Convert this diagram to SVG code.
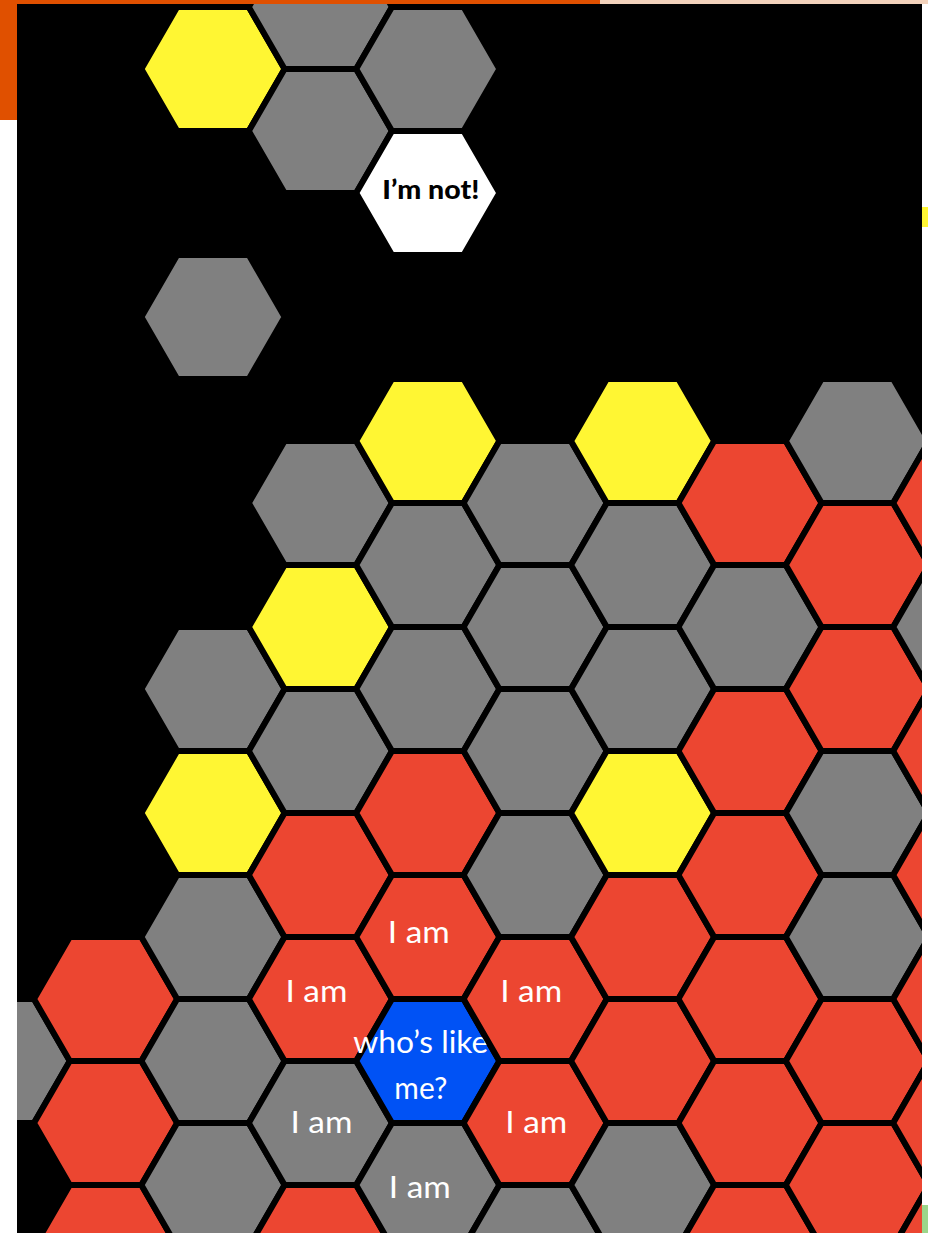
<svg xmlns="http://www.w3.org/2000/svg" xmlns:xlink="http://www.w3.org/1999/xlink" width="928" height="1233" viewBox="0 0 928 1233">
<style>
.hx{stroke:#000;stroke-width:6;stroke-linejoin:miter}
.red{fill:#EC4631}.gray{fill:#808080}.yellow{fill:#FFF633}.white{fill:#FFFFFF}.blue{fill:#0052F5}
.lbl{font-family:Lato,"Liberation Sans",sans-serif;font-size:30px;fill:#FFFFFF;text-anchor:middle}
.lblb{font-family:Lato,"Liberation Sans",sans-serif;font-size:26px;font-weight:900;fill:#000;text-anchor:middle}
</style>
<defs>
<polygon id="h" points="-71.6,0 -35.8,-62 35.8,-62 71.6,0 35.8,62 -35.8,62"/>
<clipPath id="panel"><rect x="17" y="4" width="905" height="1229"/></clipPath>
</defs>
<rect x="0" y="0" width="928" height="1233" fill="#FFFFFF"/>
<rect x="0" y="0" width="600" height="4" fill="#E05000"/>
<rect x="600" y="0" width="328" height="4" fill="#F2D2BC"/>
<rect x="0" y="0" width="17" height="120" fill="#E05000"/>
<rect x="922" y="207" width="6" height="20" fill="#FFF633"/>
<rect x="922" y="1205" width="6" height="28" fill="#9CD68A"/>
<rect x="17" y="4" width="905" height="1229" fill="#000"/>
<g id="hexes" clip-path="url(#panel)">
<g id="c0r1061" transform="translate(-1.8,1061)"><use href="#h" class="hx gray"/></g>
<g id="c1r999" transform="translate(105.6,999)"><use href="#h" class="hx red"/></g>
<g id="c1r1123" transform="translate(105.6,1123)"><use href="#h" class="hx red"/></g>
<g id="c1r1247" transform="translate(105.6,1247)"><use href="#h" class="hx red"/></g>
<g id="c2r69" transform="translate(213,69)"><use href="#h" class="hx yellow"/></g>
<g id="c2r317" transform="translate(213,317)"><use href="#h" class="hx gray"/></g>
<g id="c2r689" transform="translate(213,689)"><use href="#h" class="hx gray"/></g>
<g id="c2r813" transform="translate(213,813)"><use href="#h" class="hx yellow"/></g>
<g id="c2r937" transform="translate(213,937)"><use href="#h" class="hx gray"/></g>
<g id="c2r1061" transform="translate(213,1061)"><use href="#h" class="hx gray"/></g>
<g id="c2r1185" transform="translate(213,1185)"><use href="#h" class="hx gray"/></g>
<g id="c3r7" transform="translate(320.4,7)"><use href="#h" class="hx gray"/></g>
<g id="c3r131" transform="translate(320.4,131)"><use href="#h" class="hx gray"/></g>
<g id="c3r503" transform="translate(320.4,503)"><use href="#h" class="hx gray"/></g>
<g id="c3r627" transform="translate(320.4,627)"><use href="#h" class="hx yellow"/></g>
<g id="c3r751" transform="translate(320.4,751)"><use href="#h" class="hx gray"/></g>
<g id="c3r875" transform="translate(320.4,875)"><use href="#h" class="hx red"/></g>
<g id="c3r999" transform="translate(320.4,999)"><use href="#h" class="hx red"/><text class="lbl" x="-4" y="3" textLength="62" lengthAdjust="spacingAndGlyphs">I am</text></g>
<g id="c3r1123" transform="translate(320.4,1123)"><use href="#h" class="hx gray"/><text class="lbl" x="1" y="10" textLength="62" lengthAdjust="spacingAndGlyphs">I am</text></g>
<g id="c3r1247" transform="translate(320.4,1247)"><use href="#h" class="hx red"/></g>
<g id="c4r69" transform="translate(427.8,69)"><use href="#h" class="hx gray"/></g>
<g id="c4r193" transform="translate(427.8,193)"><use href="#h" class="hx white"/><text class="lblb" x="3" y="6" textLength="97" lengthAdjust="spacingAndGlyphs">I’m not!</text></g>
<g id="c4r441" transform="translate(427.8,441)"><use href="#h" class="hx yellow"/></g>
<g id="c4r565" transform="translate(427.8,565)"><use href="#h" class="hx gray"/></g>
<g id="c4r689" transform="translate(427.8,689)"><use href="#h" class="hx gray"/></g>
<g id="c4r813" transform="translate(427.8,813)"><use href="#h" class="hx red"/></g>
<g id="c4r937" transform="translate(427.8,937)"><use href="#h" class="hx red"/><text class="lbl" x="-9" y="6" textLength="62" lengthAdjust="spacingAndGlyphs">I am</text></g>
<g id="c4r1061" transform="translate(427.8,1061)"><use href="#h" class="hx blue"/><text class="lbl" x="-7" y="-8" textLength="135" lengthAdjust="spacingAndGlyphs">who’s like</text><text class="lbl" x="-7" y="38" textLength="53" lengthAdjust="spacingAndGlyphs">me?</text></g>
<g id="c4r1185" transform="translate(427.8,1185)"><use href="#h" class="hx gray"/><text class="lbl" x="-8" y="13" textLength="62" lengthAdjust="spacingAndGlyphs">I am</text></g>
<g id="c5r503" transform="translate(535.2,503)"><use href="#h" class="hx gray"/></g>
<g id="c5r627" transform="translate(535.2,627)"><use href="#h" class="hx gray"/></g>
<g id="c5r751" transform="translate(535.2,751)"><use href="#h" class="hx gray"/></g>
<g id="c5r875" transform="translate(535.2,875)"><use href="#h" class="hx gray"/></g>
<g id="c5r999" transform="translate(535.2,999)"><use href="#h" class="hx red"/><text class="lbl" x="-4" y="3" textLength="62" lengthAdjust="spacingAndGlyphs">I am</text></g>
<g id="c5r1123" transform="translate(535.2,1123)"><use href="#h" class="hx red"/><text class="lbl" x="1" y="10" textLength="62" lengthAdjust="spacingAndGlyphs">I am</text></g>
<g id="c5r1247" transform="translate(535.2,1247)"><use href="#h" class="hx gray"/></g>
<g id="c6r441" transform="translate(642.6,441)"><use href="#h" class="hx yellow"/></g>
<g id="c6r565" transform="translate(642.6,565)"><use href="#h" class="hx gray"/></g>
<g id="c6r689" transform="translate(642.6,689)"><use href="#h" class="hx gray"/></g>
<g id="c6r813" transform="translate(642.6,813)"><use href="#h" class="hx yellow"/></g>
<g id="c6r937" transform="translate(642.6,937)"><use href="#h" class="hx red"/></g>
<g id="c6r1061" transform="translate(642.6,1061)"><use href="#h" class="hx red"/></g>
<g id="c6r1185" transform="translate(642.6,1185)"><use href="#h" class="hx gray"/></g>
<g id="c7r503" transform="translate(750,503)"><use href="#h" class="hx red"/></g>
<g id="c7r627" transform="translate(750,627)"><use href="#h" class="hx gray"/></g>
<g id="c7r751" transform="translate(750,751)"><use href="#h" class="hx red"/></g>
<g id="c7r875" transform="translate(750,875)"><use href="#h" class="hx red"/></g>
<g id="c7r999" transform="translate(750,999)"><use href="#h" class="hx red"/></g>
<g id="c7r1123" transform="translate(750,1123)"><use href="#h" class="hx red"/></g>
<g id="c7r1247" transform="translate(750,1247)"><use href="#h" class="hx red"/></g>
<g id="c8r441" transform="translate(857.4,441)"><use href="#h" class="hx gray"/></g>
<g id="c8r565" transform="translate(857.4,565)"><use href="#h" class="hx red"/></g>
<g id="c8r689" transform="translate(857.4,689)"><use href="#h" class="hx red"/></g>
<g id="c8r813" transform="translate(857.4,813)"><use href="#h" class="hx gray"/></g>
<g id="c8r937" transform="translate(857.4,937)"><use href="#h" class="hx gray"/></g>
<g id="c8r1061" transform="translate(857.4,1061)"><use href="#h" class="hx red"/></g>
<g id="c8r1185" transform="translate(857.4,1185)"><use href="#h" class="hx red"/></g>
<g id="c9r503" transform="translate(964.8,503)"><use href="#h" class="hx red"/></g>
<g id="c9r627" transform="translate(964.8,627)"><use href="#h" class="hx gray"/></g>
<g id="c9r751" transform="translate(964.8,751)"><use href="#h" class="hx red"/></g>
<g id="c9r875" transform="translate(964.8,875)"><use href="#h" class="hx red"/></g>
<g id="c9r999" transform="translate(964.8,999)"><use href="#h" class="hx red"/></g>
<g id="c9r1123" transform="translate(964.8,1123)"><use href="#h" class="hx red"/></g>
<g id="c9r1247" transform="translate(964.8,1247)"><use href="#h" class="hx red"/></g>
</g>
<g id="connectors"/>
</svg>
